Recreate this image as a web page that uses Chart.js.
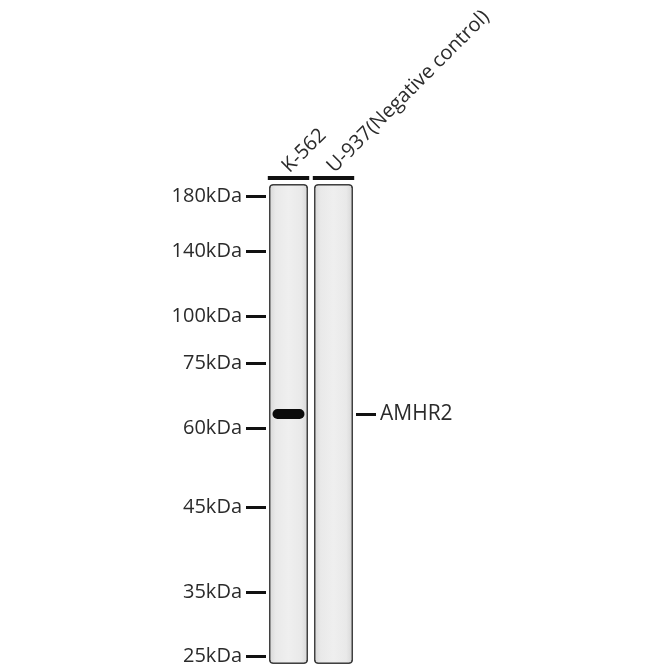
<!DOCTYPE html>
<html>
<head>
<meta charset="utf-8">
<script src="https://cdn.jsdelivr.net/npm/chart.js@4.4.1/dist/chart.umd.min.js"></script>
<style>
  html, body { margin: 0; padding: 0; background: #fff; }
  #wrap { width: 670px; height: 670px; }
</style>
</head>
<body>
<div id="wrap"><canvas id="blot" width="670" height="670"></canvas></div>
<script>
// lanes and what was loaded
const lanes = ['K-562', 'U-937(Negative control)']

// ladder: label + migration distance down the gel
const markerLabels = ['180kDa', '140kDa', '100kDa', '75kDa', '60kDa', '45kDa', '35kDa', '25kDa']
const markerMigration = [12, 67, 132, 179, 244, 323, 408, 472]

// target band
const targetLabel = 'AMHR2'
const targetMigration = 230
const bandRange = [[225, 235], null]

// gel strip and the sample bar above each lane
const laneRange = [[0, 480], [0, 480]]
const laneCapRange = [[-8, -4], [-8, -4]]

Chart.defaults.font.family = '"Open Sans", "Noto Sans", sans-serif'
Chart.defaults.font.size = 20
Chart.defaults.color = '#2b2b2b'

const ink = '#111'

const laneFill = ({ chart, dataIndex }) => {
  const x = chart.scales.x
  const cx = x ? x.getPixelForValue(dataIndex) : NaN
  if (!Number.isFinite(cx)) return '#ebebeb'
  const g = chart.ctx.createLinearGradient(cx - 20, 0, cx + 20, 0)
  g.addColorStop(0, '#d4d4d4')
  g.addColorStop(0.18, '#e9e9e9')
  g.addColorStop(0.5, '#efefef')
  g.addColorStop(0.82, '#e9e9e9')
  g.addColorStop(1, '#d4d4d4')
  return g
}

const stripPadding = s => { s.paddingTop = 0; s.paddingBottom = 0 }

new Chart(document.querySelector('#blot'), {
  type: 'bar',
  data: {
    labels: lanes,
    datasets: [{
      label: 'band',
      data: bandRange,
      backgroundColor: '#0b0b0b',
      borderWidth: 0,
      borderRadius: 5,
      borderSkipped: false,
      barPercentage: 0.71,
      categoryPercentage: 1,
      grouped: false,
      order: 0,
    }, {
      label: 'cap',
      data: laneCapRange,
      backgroundColor: ink,
      borderWidth: 0,
      borderSkipped: false,
      barPercentage: 0.92,
      categoryPercentage: 1,
      grouped: false,
      order: 1,
    }, {
      label: 'lane',
      data: laneRange,
      backgroundColor: laneFill,
      borderColor: '#404040',
      borderWidth: 1.8,
      borderRadius: 4,
      borderSkipped: false,
      barPercentage: 0.87,
      categoryPercentage: 1,
      grouped: false,
      order: 2,
    }]
  },
  options: {
    responsive: false,
    animation: false,
    layout: { padding: { left: 0, right: 0, top: 0, bottom: 6 } },
    plugins: {
      legend: { display: false },
      tooltip: { enabled: false },
    },
    scales: {
      x: {
        position: 'top',
        offset: true,
        grid: { display: false, drawTicks: false },
        border: { display: false },
        ticks: { minRotation: 45, maxRotation: 45, autoSkip: false, padding: -4, labelOffset: 14 },
        afterFit: s => { s.height = 174; s.paddingLeft = 0; s.paddingRight = 0 },
      },
      y: {
        position: 'left',
        reverse: true,
        min: -10,
        max: 480,
        grid: { drawOnChartArea: false, drawTicks: true, tickLength: 20, tickWidth: 3, tickColor: ink },
        border: { display: false },
        ticks: {
          padding: 4,
          autoSkip: false,
          callback: v => markerLabels[markerMigration.indexOf(v)] ?? '',
        },
        afterBuildTicks: s => { s.ticks = markerMigration.map(v => ({ value: v })) },
        afterFit: s => { s.width = 266; stripPadding(s) },
      },
      y2: {
        display: true,
        position: 'right',
        reverse: true,
        min: -10,
        max: 480,
        grid: { drawOnChartArea: false, drawTicks: true, tickLength: 20, tickWidth: 3, tickColor: ink },
        border: { display: false },
        ticks: {
          padding: 4,
          autoSkip: false,
          font: { size: 21 },
          callback: v => (v === targetMigration ? targetLabel : ''),
        },
        afterBuildTicks: s => { s.ticks = [{ value: targetMigration }] },
        afterFit: s => { s.width = 314; stripPadding(s) },
      },
    },
  },
})
</script>
</body>
</html>
